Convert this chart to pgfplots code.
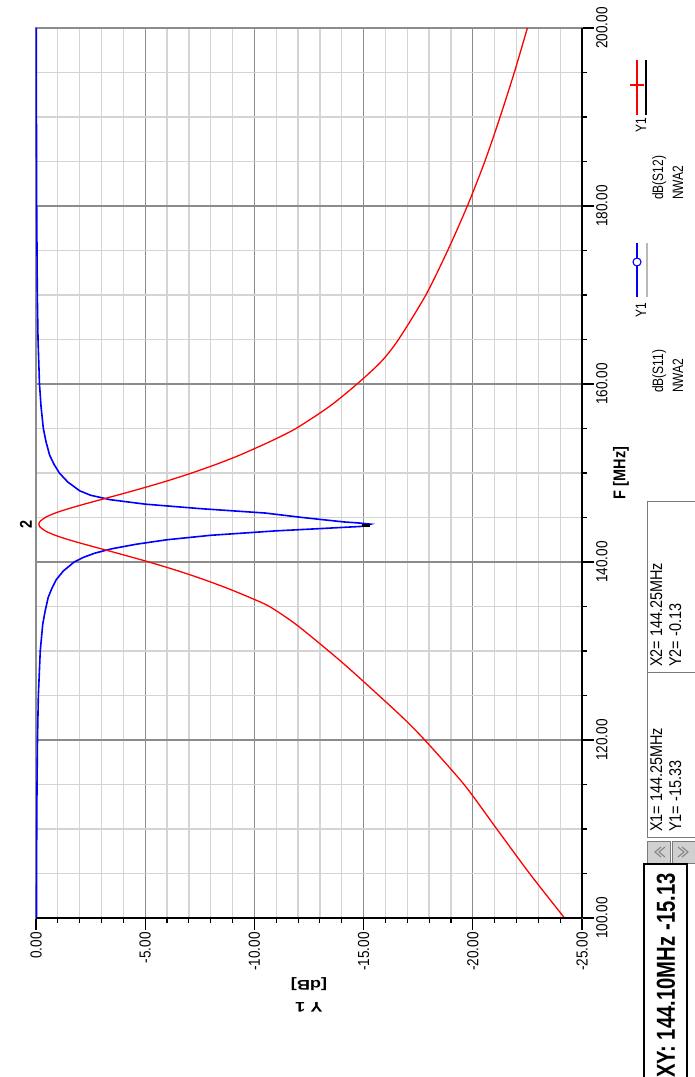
\documentclass[border=0pt]{standalone}
\usepackage{pgfplots}
\pgfplotsset{compat=1.18}
\usepackage{fontspec}
\setmainfont{Liberation Sans}
\newfontfamily\narrowfont[FakeStretch=0.85]{Liberation Sans}
\newfontfamily\slimfont[FakeStretch=0.8]{Liberation Sans}
\newfontfamily\condfont[FakeStretch=0.78]{Liberation Sans}
\newfontfamily\widefont[FakeStretch=1.3]{Liberation Sans}

\definecolor{gridminor}{HTML}{D4D4D4}
\definecolor{gridmajor}{HTML}{8C8C8C}
\definecolor{boxline}{HTML}{7A7A7A}
\definecolor{btnfill}{HTML}{D0D0D0}
\definecolor{btnglyph}{HTML}{808080}

% S11 of the resonator, x = level [dB], y = frequency [MHz]
\pgfplotstableread{
db freq
-0.021 100
-0.027 105
-0.034 110
-0.047 115
-0.068 120
-0.108 125
-0.195 130
-0.308 133
-0.42 134.5
-0.556 136
-0.72 137
-0.924 138
-1.255 139
-1.75 140
-2.15 140.5
-2.7 141
-3.5 141.5
-4.6 142
-6.0 142.5
-8.0 143
-11.0 143.5
-13.0 143.75
-14.9 144.0
-15.13 144.10
-15.33 144.25
-14.7 144.4
-14.1 144.5
-12.2 145
-10.5 145.5
-7.5 146
-5.0 146.5
-3.4 147
-2.5 147.5
-2.0 148
-1.45 149
-1.07 150
-0.82 151
-0.625 152
-0.46 153.5
-0.336 155
-0.23 157.5
-0.16 160
-0.093 165
-0.061 170
-0.032 180
-0.020 190
-0.014 200
}\sEleven

% S12 (transmission) of the resonator
\pgfplotstableread{
db freq
-24.2 100
-22.6 105
-21.1 110
-19.6 115
-17.8 120
-16.8 122.5
-15.7 125
-14.35 128
-13.4 130
-11.9 133
-10.69 135
-9.80 136
-8.81 137
-7.72 138
-6.51 139
-5.17 140
-3.71 141
-2.21 142
-1.50 142.5
-0.88 143
-0.42 143.5
-0.16 144
-0.13 144.25
-0.16 144.5
-0.42 145
-0.88 145.5
-1.50 146
-2.21 146.5
-2.96 147
-4.45 148
-5.86 149
-7.13 150
-8.28 151
-9.32 152
-10.69 153.5
-11.90 155
-13.45 157.5
-14.7 160
-15.8 162.5
-16.6 165
-17.85 170
-18.85 175
-19.75 180
-20.55 185
-21.25 190
-21.9 195
-22.5 200
}\sTwelve

\begin{document}
\begin{tikzpicture}
\useasboundingbox (0,0) rectangle (695pt,1077pt);
\begin{axis}[
  at={(36pt,159pt)}, anchor=south west,
  width=546pt, height=890pt, scale only axis,
  clip=false,
  xmin=-25, xmax=0, x dir=reverse,
  ymin=100, ymax=200,
  xtick={0,-5,-10,-15,-20,-25},
  xticklabels={0.00,-5.00,-10.00,-15.00,-20.00,-25.00},
  minor x tick num=4,
  ytick={100,120,140,160,180,200},
  yticklabels={100.00,120.00,140.00,160.00,180.00,200.00},
  minor y tick num=3,
  grid=both,
  minor grid style={gridminor, line width=1.3pt},
  major grid style={gridmajor, line width=1.2pt},
  axis line style={gridmajor, line width=1.2pt},
  xtick pos=bottom, ytick pos=right, yticklabel pos=right,
  tick align=outside,
  major tick length=12pt, minor tick length=5pt,
  every tick/.style={black, line width=1.1pt},
  xticklabel style={rotate=90, anchor=east, font=\fontsize{16}{19}\narrowfont, inner sep=2pt},
  yticklabel style={rotate=90, anchor=north, font=\fontsize{16}{19}\narrowfont, inner sep=2pt},
  xlabel={Y 1\\{[dB]}},
  xlabel style={rotate=180, anchor=south, align=center, inner sep=5pt,
    font=\fontsize{14}{22}\widefont\bfseries},
  ylabel={F [MHz]},
  ylabel style={font=\fontsize{17}{19}\narrowfont\bfseries},
  after end axis/.code={
    \draw[black, line width=2.6pt] (rel axis cs:1,0) -- (rel axis cs:1,1);
    \draw[black, line width=2pt] (rel axis cs:0,0) -- (rel axis cs:1,0);
  },
]
\addplot[blue, line width=1.6pt] table[x=db, y=freq] {\sEleven};
\addplot[red, line width=1.3pt, smooth, tension=0.45] table[x=db, y=freq] {\sTwelve};
% XY cursor on the reflection dip
\addplot[black, only marks, mark=-, mark size=4pt, mark options={line width=3pt}]
  coordinates {(-15.13,144.10)};
% marker 2 on the transmission peak
\node[rotate=90, font=\fontsize{17}{18}\narrowfont\bfseries, anchor=south, inner sep=4pt]
  at (axis cs:0,144.25) {2};
\end{axis}

% legend: trace names and line samples
\node[rotate=90, anchor=north west, align=left, inner sep=0pt,
      font=\fontsize{15}{20}\slimfont] at (652pt,684pt) {dB(S11)\\NWA2};
\node[rotate=90, anchor=north west, align=left, inner sep=0pt,
      font=\fontsize{15}{20}\slimfont] at (652pt,877pt) {dB(S12)\\NWA2};
\node[rotate=90, inner sep=0pt, font=\fontsize{15}{16}\slimfont] at (641pt,767pt) {Y1};
\node[rotate=90, inner sep=0pt, font=\fontsize{15}{16}\slimfont] at (641pt,952pt) {Y1};
\draw[gray!55, line width=1.2pt] (647pt,834pt) -- (647pt,780pt);
\draw[blue, line width=1.3pt] (637pt,834pt) -- (637pt,780pt);
\draw[blue, line width=1.1pt, fill=white] (637pt,815pt) circle (4pt);
\draw[black, line width=1.8pt] (646pt,1017pt) -- (646pt,962pt);
\draw[red, line width=1.3pt] (637pt,1017pt) -- (637pt,962pt);
\draw[red, line width=1.2pt] (630pt,992pt) -- (644pt,992pt);

% marker readouts
\draw[boxline, line width=1pt] (647pt,404pt) rectangle (700pt,575pt);
\draw[boxline, line width=1pt] (647pt,239pt) rectangle (700pt,404pt);
\node[rotate=90, anchor=north west, align=left, inner sep=0pt,
      font=\fontsize{17}{19}\narrowfont] at (650pt,410pt) {X2= 144.25MHz\\Y2= -0.13};
\node[rotate=90, anchor=north west, align=left, inner sep=0pt,
      font=\fontsize{17}{19}\narrowfont] at (650pt,245pt) {X1= 144.25MHz\\Y1= -15.33};
\draw[boxline, fill=btnfill] (647pt,214pt) rectangle (670pt,236pt);
\draw[boxline, fill=btnfill] (672pt,214pt) rectangle (695pt,236pt);
\draw[btnglyph, line width=1pt] (661pt,220pt) -- (655pt,225pt) -- (661pt,230pt);
\draw[btnglyph, line width=1pt] (665pt,220pt) -- (659pt,225pt) -- (665pt,230pt);
\draw[btnglyph, line width=1pt] (678pt,220pt) -- (684pt,225pt) -- (678pt,230pt);
\draw[btnglyph, line width=1pt] (682pt,220pt) -- (688pt,225pt) -- (682pt,230pt);
\draw[black, line width=1.2pt] (644pt,-5pt) rectangle (687pt,213pt);
\node[rotate=90, anchor=east, inner sep=0pt,
      font=\fontsize{26}{28}\condfont\bfseries] at (666pt,204pt) {XY: 144.10MHz -15.13};
\end{tikzpicture}
\end{document}
